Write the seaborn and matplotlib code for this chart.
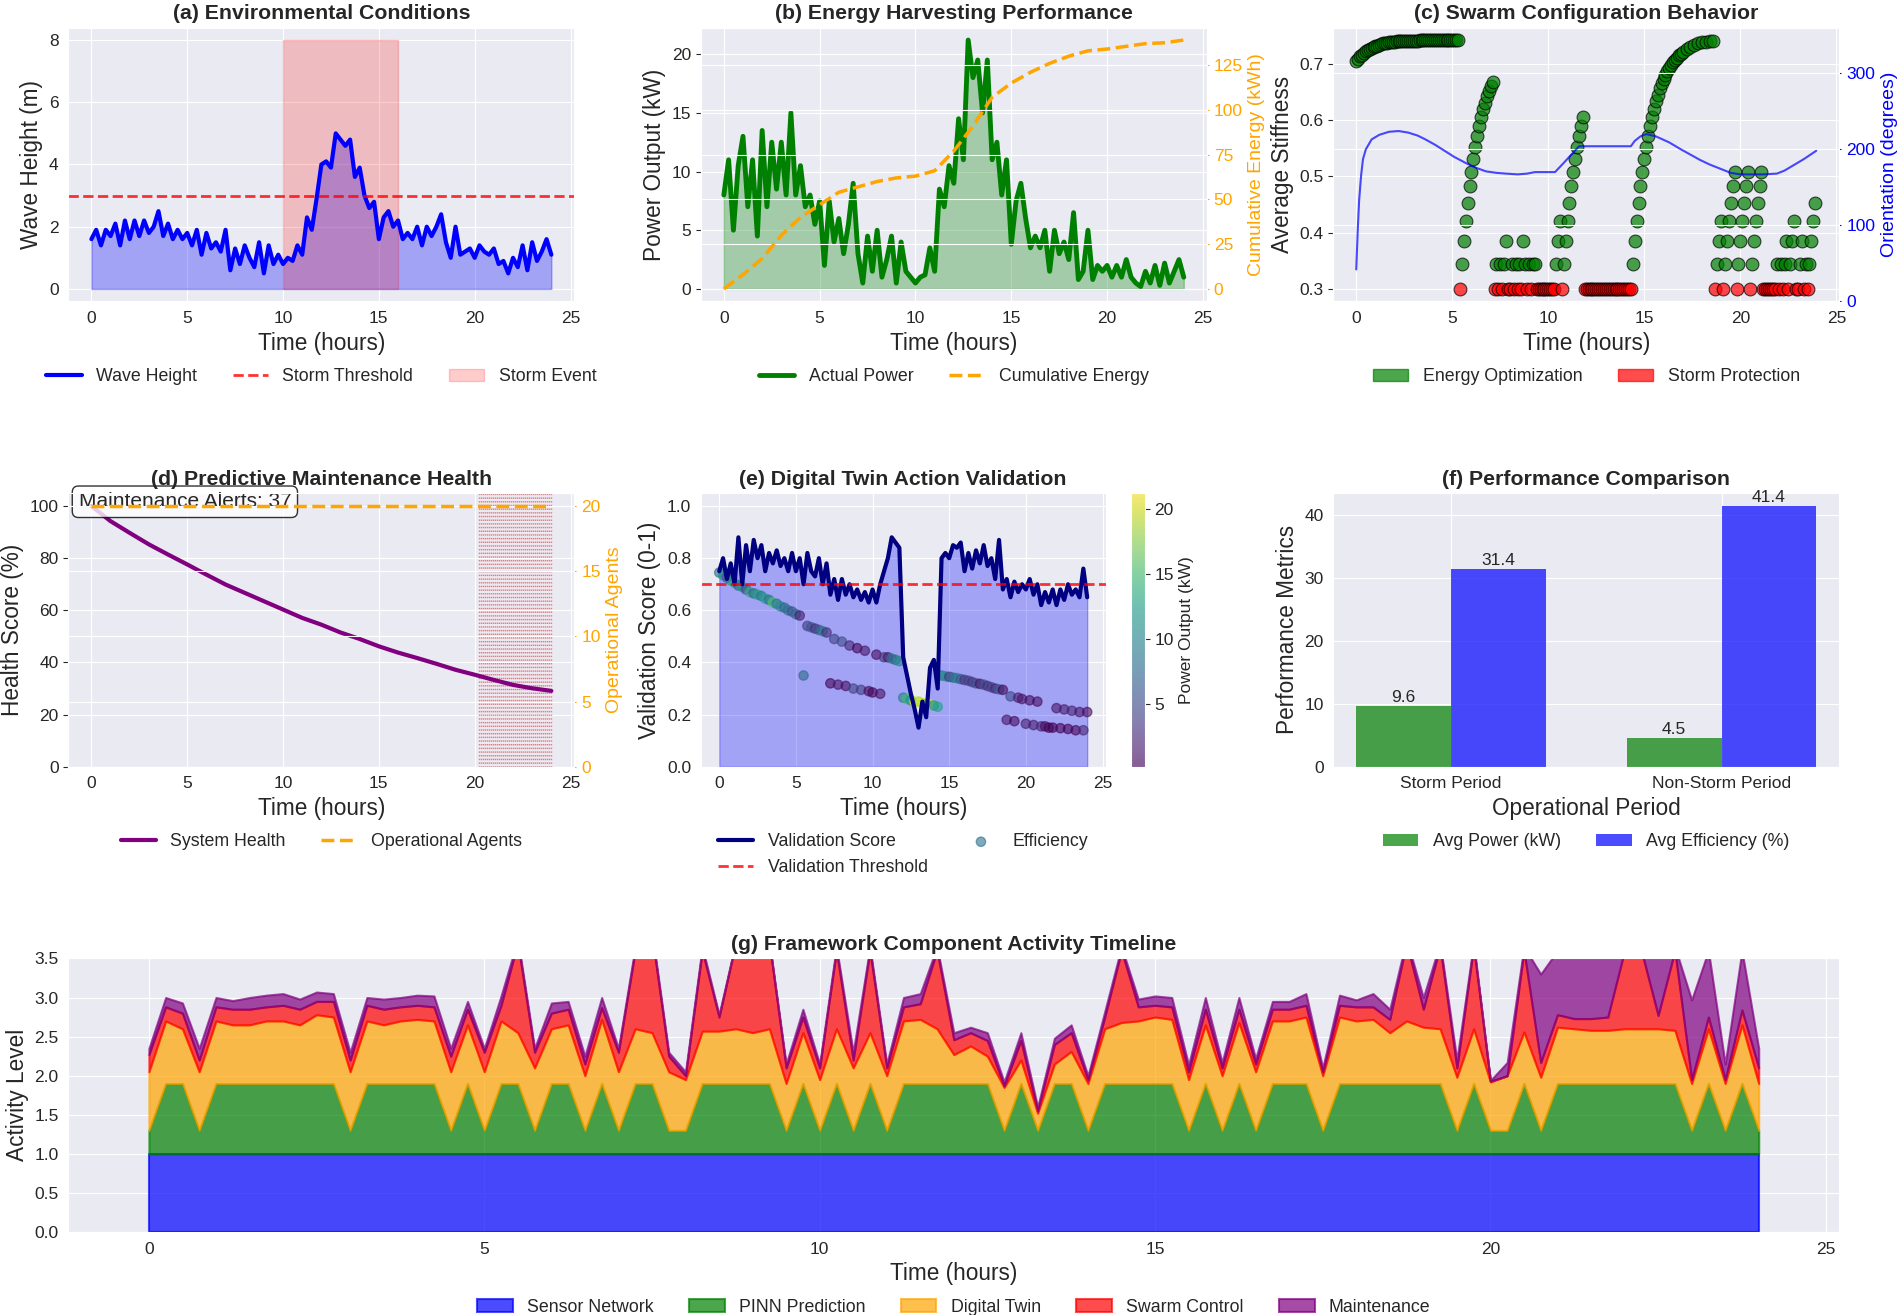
import matplotlib
matplotlib.use("Agg")
import matplotlib.pyplot as plt
from matplotlib.patches import Patch
import pandas as pd
import seaborn as sns

# ---- time grid (hours) shared by most panels ----
hours = [0.0, 0.25, 0.5, 0.75, 1.0, 1.25, 1.5, 1.75,
         2.0, 2.25, 2.5, 2.75, 3.0, 3.25, 3.5, 3.75,
         4.0, 4.25, 4.5, 4.75, 5.0, 5.25, 5.5, 5.75,
         6.0, 6.25, 6.5, 6.75, 7.0, 7.25, 7.5, 7.75,
         8.0, 8.25, 8.5, 8.75, 9.0, 9.25, 9.5, 9.75,
         10.0, 10.25, 10.5, 10.75, 11.0, 11.25, 11.5, 11.75,
         12.0, 12.25, 12.5, 12.75, 13.0, 13.25, 13.5, 13.75,
         14.0, 14.25, 14.5, 14.75, 15.0, 15.25, 15.5, 15.75,
         16.0, 16.25, 16.5, 16.75, 17.0, 17.25, 17.5, 17.75,
         18.0, 18.25, 18.5, 18.75, 19.0, 19.25, 19.5, 19.75,
         20.0, 20.25, 20.5, 20.75, 21.0, 21.25, 21.5, 21.75,
         22.0, 22.25, 22.5, 22.75, 23.0, 23.25, 23.5, 23.75,
         24.0]

# (a) environment
wave_height = [1.6, 1.9, 1.4, 1.9, 1.7, 2.1, 1.4, 2.2,
               1.6, 2.2, 1.7, 2.2, 1.8, 2.0, 2.5, 1.7,
               2.1, 1.6, 1.9, 1.6, 1.8, 1.4, 1.9, 1.1,
               1.8, 1.3, 1.5, 1.2, 1.9, 0.6, 1.3, 0.8,
               1.4, 1.0, 0.7, 1.5, 0.5, 1.4, 0.8, 1.1,
               0.8, 1.0, 0.9, 1.4, 1.1, 2.3, 1.9, 2.9,
               4.0, 4.1, 3.9, 5.0, 4.8, 4.6, 4.8, 3.6,
               3.9, 3.0, 2.6, 2.8, 1.6, 2.3, 2.5, 2.0,
               2.2, 1.6, 1.8, 1.6, 2.0, 1.4, 2.0, 1.7,
               2.0, 2.4, 1.5, 1.0, 2.0, 1.1, 1.2, 1.3,
               1.0, 1.4, 1.2, 1.1, 1.3, 0.8, 0.9, 0.5,
               1.0, 0.7, 1.4, 0.6, 1.5, 0.9, 1.2, 1.6,
               1.1]
storm_threshold = 3.0
storm_window = [10, 16]
storm_top = 8

# (b) energy
power_kw = [8.0, 11.0, 5.0, 10.5, 13.0, 7.0, 11.0, 4.5,
            13.5, 7.0, 12.5, 8.5, 12.5, 8.0, 15.0, 8.0,
            10.5, 7.0, 8.0, 5.5, 7.5, 2.0, 7.5, 4.0,
            6.0, 3.0, 5.5, 9.0, 3.0, 0.5, 4.5, 1.5,
            5.0, 1.0, 2.5, 4.5, 0.5, 4.0, 1.5, 1.0,
            0.5, 1.0, 1.2, 3.5, 1.5, 8.5, 7.0, 10.5,
            9.0, 14.5, 11.0, 21.2, 18.0, 19.5, 15.0, 19.5,
            11.0, 12.5, 8.0, 11.0, 3.8, 7.5, 9.0, 6.0,
            3.5, 4.5, 3.5, 5.0, 1.5, 5.0, 3.0, 4.0,
            2.5, 6.5, 0.8, 1.5, 5.0, 0.8, 2.0, 1.5,
            2.0, 1.0, 2.0, 1.0, 2.5, 1.0, 0.5, 0.2,
            1.5, 0.5, 2.0, 0.3, 2.2, 0.5, 1.5, 2.5,
            1.0]
energy_hours = [0, 1, 2, 3, 4, 5, 6, 7, 8, 9, 10, 11, 12,
                13, 14, 15, 16, 17, 18, 19, 20, 21, 22, 23, 24]
cumulative_energy = [0, 8, 17, 30, 40, 47, 54, 57, 60, 62, 63, 66, 77,
                     91, 107, 115, 121, 126, 130, 133, 134, 135.5, 137, 137.5, 139]

# (c) swarm configuration
energy_opt_t = [0.0, 0.1, 0.2, 0.3, 0.4, 0.5, 0.6, 0.7, 0.8, 0.9,
                1.0, 1.1, 1.2, 1.3, 1.4, 1.5, 1.6, 1.7, 1.8, 1.9,
                2.0, 2.1, 2.2, 2.3, 2.4, 2.5, 2.6, 2.7, 2.8, 2.9,
                3.0, 3.1, 3.2, 3.3, 3.4, 3.5, 3.6, 3.7, 3.8, 3.9,
                4.0, 4.1, 4.2, 4.3, 4.4, 4.5, 4.6, 4.7, 4.8, 4.9,
                5.0, 5.1, 5.2, 5.3,
                5.5, 5.6, 5.7, 5.8, 5.9, 6.0, 6.1, 6.2, 6.3, 6.4,
                6.5, 6.6, 6.7, 6.8, 6.9, 7.0, 7.1,
                7.3, 7.5, 7.7, 7.8, 8.1, 8.3, 8.5, 8.7, 8.8, 9.0, 9.2, 9.3,
                10.4, 10.5, 10.6, 10.8, 10.9, 11.0, 11.1, 11.2, 11.3, 11.4,
                11.5, 11.6, 11.7, 11.8,
                14.4, 14.5, 14.6, 14.7, 14.8, 14.9, 15.0, 15.1, 15.2, 15.3,
                15.4, 15.5, 15.6, 15.7, 15.8, 15.9, 16.0, 16.1, 16.2, 16.3,
                16.4, 16.5, 16.6, 16.7, 16.8, 16.9, 17.0,
                17.2, 17.4, 17.6, 17.8, 18.0, 18.2, 18.4, 18.6,
                18.8, 18.9, 19.0, 19.2, 19.3, 19.4, 19.5, 19.6, 19.7,
                19.9, 20.0, 20.1, 20.2, 20.3, 20.4,
                20.6, 20.7, 20.8, 20.9, 21.0, 21.1,
                21.9, 22.1, 22.3, 22.4, 22.6, 22.7, 22.8,
                23.1, 23.2, 23.4, 23.6, 23.7, 23.8, 23.9]
energy_opt_stiff = [0.705, 0.709, 0.713, 0.716, 0.719, 0.722, 0.724, 0.726, 0.728, 0.730,
                    0.731, 0.732, 0.734, 0.735, 0.736, 0.736, 0.737, 0.738, 0.738, 0.739,
                    0.739, 0.740, 0.740, 0.740, 0.740, 0.740, 0.741, 0.741, 0.741, 0.741,
                    0.741, 0.741, 0.741, 0.742, 0.742, 0.742, 0.742, 0.742, 0.742, 0.742,
                    0.742, 0.742, 0.742, 0.742, 0.742, 0.742, 0.742, 0.742, 0.742, 0.742,
                    0.742, 0.742, 0.742, 0.742,
                    0.345, 0.385, 0.420, 0.453, 0.482, 0.508, 0.531, 0.552, 0.571, 0.589,
                    0.605, 0.620, 0.631, 0.642, 0.651, 0.660, 0.667,
                    0.345, 0.345, 0.345, 0.385, 0.345, 0.345, 0.345, 0.385, 0.345, 0.345, 0.345, 0.345,
                    0.345, 0.385, 0.420, 0.345, 0.385, 0.420, 0.453, 0.482, 0.508, 0.531,
                    0.552, 0.571, 0.589, 0.605,
                    0.345, 0.385, 0.420, 0.453, 0.482, 0.508, 0.531, 0.552, 0.571, 0.589,
                    0.605, 0.620, 0.633, 0.645, 0.656, 0.665, 0.673, 0.680, 0.687, 0.693,
                    0.698, 0.703, 0.707, 0.711, 0.715, 0.718, 0.721,
                    0.726, 0.730, 0.733, 0.736, 0.738, 0.739, 0.740, 0.741,
                    0.345, 0.385, 0.420, 0.345, 0.385, 0.420, 0.453, 0.482, 0.508,
                    0.345, 0.385, 0.420, 0.453, 0.482, 0.508,
                    0.345, 0.385, 0.420, 0.453, 0.482, 0.508,
                    0.345, 0.345, 0.345, 0.385, 0.345, 0.385, 0.420,
                    0.345, 0.385, 0.345, 0.345, 0.385, 0.420, 0.453]
storm_prot_t = [5.4, 7.2, 7.4, 7.6, 7.9, 8.0, 8.2, 8.4, 8.6, 8.9, 9.1,
                9.4, 9.5, 9.6, 9.7, 9.8, 9.9, 10.0, 10.1, 10.2, 10.3, 10.7,
                11.9, 12.0, 12.1, 12.2, 12.3, 12.4, 12.5, 12.6, 12.7, 12.8,
                12.9, 13.0, 13.1, 13.2, 13.3, 13.4, 13.5, 13.6, 13.7, 13.8,
                13.9, 14.0, 14.1, 14.2, 14.3,
                18.7, 19.1, 19.8, 20.5,
                21.2, 21.3, 21.4, 21.5, 21.6, 21.7, 21.8,
                22.0, 22.2, 22.5, 22.9, 23.0, 23.3, 23.5]
storm_prot_stiff = 0.3
orient_hours = [0, 0.08, 0.15, 0.25, 0.35, 0.5, 0.8, 1.2, 1.7, 2.2, 2.7, 3.2,
                3.6, 4.1, 4.6, 5.1, 5.7, 6.2, 6.75, 7.3, 7.8, 8.4, 8.9, 9.3,
                10.35, 10.8, 11.2, 11.6, 14.3, 14.5, 14.8, 15.1, 15.6, 16.3,
                16.9, 17.4, 17.9, 18.4, 19.0, 19.5, 20.0, 20.55, 21.2, 21.9,
                22.3, 22.7, 23.3, 23.95]
orient_deg = [42, 95, 133, 165, 187, 200, 213, 219, 223, 224, 222, 218,
              213, 206, 198, 190, 182, 176, 171, 169, 168, 167, 168, 170,
              170, 182, 193, 204, 204, 211, 217, 220, 217, 209,
              200, 193, 186, 180, 174, 169, 167, 167, 167, 168,
              172, 178, 187, 198]

# (d) maintenance
health_hours = [0, 1, 2, 3, 4, 5, 6, 7, 8, 9, 10, 11, 12,
                13, 14, 15, 16, 17, 18, 19, 20, 21, 22, 23, 24]
system_health = [100, 94.2, 89.7, 85.3, 81.4, 77.6, 73.7, 69.9, 66.7, 63.5, 60.3, 57.1, 54.5,
                 51.5, 49.0, 46.2, 43.8, 41.7, 39.5, 37.2, 35.3, 33.3, 31.4, 30.1, 29.1]
operational_agents = [20] * len(health_hours)
alert_hours = [20.20, 20.31, 20.41, 20.52, 20.62, 20.73, 20.83, 20.94, 21.04, 21.15,
               21.25, 21.36, 21.46, 21.57, 21.67, 21.78, 21.88, 21.99, 22.09, 22.20,
               22.30, 22.41, 22.51, 22.62, 22.72, 22.83, 22.93, 23.04, 23.14, 23.25,
               23.35, 23.46, 23.56, 23.67, 23.77, 23.88, 23.98]

# (e) digital twin validation
validation = [0.75, 0.80, 0.72, 0.78, 0.70, 0.88, 0.70, 0.85,
              0.75, 0.87, 0.80, 0.85, 0.75, 0.82, 0.78, 0.83,
              0.77, 0.80, 0.75, 0.82, 0.75, 0.80, 0.70, 0.82,
              0.75, 0.73, 0.80, 0.70, 0.78, 0.66, 0.72, 0.64,
              0.72, 0.66, 0.70, 0.65, 0.68, 0.64, 0.67, 0.63,
              0.68, 0.63, 0.70, 0.75, 0.80, 0.88, 0.86, 0.84,
              0.42, 0.35, 0.28, 0.22, 0.15, 0.25, 0.19, 0.38,
              0.41, 0.30, 0.80, 0.82, 0.80, 0.85, 0.84, 0.86,
              0.75, 0.82, 0.76, 0.83, 0.78, 0.85, 0.77, 0.80,
              0.72, 0.87, 0.68, 0.72, 0.65, 0.71, 0.67, 0.70,
              0.68, 0.72, 0.66, 0.70, 0.62, 0.67, 0.63, 0.68,
              0.62, 0.68, 0.64, 0.70, 0.66, 0.68, 0.65, 0.76,
              0.65]
validation_threshold = 0.7
efficiency = [0.745, 0.735, 0.725, 0.715, 0.705, 0.695, 0.69, 0.68,
              0.67, 0.665, 0.66, 0.655, 0.645, 0.64, 0.63, 0.625,
              0.615, 0.61, 0.60, 0.595, 0.585, 0.58, 0.35, 0.54,
              0.535, 0.53, 0.525, 0.52, 0.515, 0.32, 0.49, 0.315,
              0.48, 0.31, 0.465, 0.30, 0.455, 0.295, 0.445, 0.29,
              0.285, 0.43, 0.28, 0.42, 0.42, 0.415, 0.41, 0.405,
              0.265, 0.26, 0.255, 0.25, 0.25, 0.245, 0.24, 0.24,
              0.235, 0.23, 0.35, 0.347, 0.345, 0.342, 0.34, 0.336,
              0.333, 0.33, 0.325, 0.32, 0.318, 0.315, 0.31, 0.305,
              0.30, 0.297, 0.295, 0.18, 0.27, 0.175, 0.265, 0.26,
              0.165, 0.255, 0.16, 0.25, 0.155, 0.155, 0.15, 0.15,
              0.225, 0.148, 0.22, 0.145, 0.215, 0.14, 0.21, 0.14,
              0.21]

# (f) performance comparison
periods = ["Storm Period", "Non-Storm Period"]
avg_power = [9.6, 4.5]
avg_efficiency = [31.4, 41.4]

# (g) component activity
sensor_network = [1.0] * len(hours)
pinn_prediction = [.3, .9, .9, .3, .9, .9, .9, .9,
                   .9, .9, .9, .9, .3, .9, .9, .9,
                   .9, .9, .3, .9, .3, .9, .9, .3,
                   .9, .9, .3, .9, .3, .9, .9, .3,
                   .3, .9, .9, .9, .9, .9, .3, .9,
                   .3, .9, .3, .9, .3, .9, .9, .9,
                   .9, .9, .9, .3, .9, .3, .9, .9,
                   .3, .9, .9, .9, .9, .9, .3, .9,
                   .3, .9, .3, .9, .9, .9, .3, .9,
                   .9, .9, .9, .9, .9, .9, .3, .9,
                   .3, .3, .9, .3, .9, .9, .9, .9,
                   .9, .9, .9, .9, .3, .9, .3, .9,
                   .3]
digital_twin = [.75, .8, .7, .75, .8, .75, .75, .8,
                .8, .75, .88, .85, .75, .8, .75, .8,
                .82, .8, .75, .75, .75, .8, .65, .8,
                .7, .75, .7, .82, .75, .7, .65, .75,
                .65, .67, .67, .7, .65, .7, .6, .65,
                .65, .7, .8, .65, .7, .8, .82, .7,
                .37, .48, .35, .55, .3, .22, .25, .41,
                .6, .7, .78, .8, .85, .82, .65, .75,
                .7, .78, .75, .8, .8, .85, .7, .85,
                .8, .82, .65, .8, .72, .7, .68, .7,
                .62, .7, .66, .68, .72, .7, .68, .68,
                .7, .7, .7, .68, .6, .7, .6, .75,
                .6]
swarm_control = [.22, .18, .2, .15, .18, .2, .2, .18,
                 .2, .2, .17, .2, .15, .2, .2, .18,
                 .18, .18, .2, .2, .25, .2, 1.15, .2,
                 .2, .2, .15, .15, .25, 1.0, 1.25, .2,
                 .05, 1.03, .18, 1.1, 1.25, 1.1, .2, .2,
                 .15, 1.0, .1, 1.05, .1, .18, .2, 1.0,
                 .19, .17, .2, .02, .25, .03, .25, .24,
                 .05, .15, .92, .18, .15, .16, .1, .2,
                 .1, .17, .1, .15, .15, .15, .05, .15,
                 .18, .16, .17, 1.0, .23, 1.05, .12, 1.05,
                 .01, .0, 1.04, .19, .16, .13, .15, .17,
                 1.0, 1.0, .17, 1.02, .05, .15, .05, .19,
                 .2]
maintenance = [.08, .12, .13, .15, .12, .11, .15, .15,
               .15, .13, .12, .1, .1, .1, .13, .12,
               .13, .14, .1, .1, .05, .12, .05, .05,
               .13, .1, .1, .13, .05, .05, .05, .05,
               .05, .05, .03, .02, .02, .02, .05, .1,
               .05, .05, .1, .05, .05, .12, .13, .05,
               .09, .07, .1, .05, .1, .05, .08, .1,
               .05, .07, .05, .1, .12, .12, .09, .15,
               .07, .15, .07, .1, .1, .15, .05, .13,
               .09, .17, .13, .05, .15, .05, .1, .05,
               .01, .17, .05, 1.13, .82, .87, .87, .85,
               .05, .05, .83, .05, 1.02, .85, .2, .76,
               .25]
component_names = ["Sensor Network", "PINN Prediction", "Digital Twin",
                   "Swarm Control", "Maintenance"]
component_colors = ['blue', 'green', 'orange', 'red', 'purple']

# ---------------- style ----------------
sns.set_style("darkgrid")
plt.rcParams['font.family'] = ['Liberation Sans', 'DejaVu Sans']
plt.rcParams.update({
    'axes.titlesize': 15.3, 'axes.titleweight': 'bold',
    'axes.labelsize': 16.3, 'xtick.labelsize': 12.5, 'ytick.labelsize': 12.5,
    'legend.fontsize': 12.8, 'patch.force_edgecolor': False,
})

fig = plt.figure(figsize=(19, 13.15), dpi=100)
gs = fig.add_gridspec(3, 3, left=0.036, right=0.968, bottom=0.063, top=0.979,
                      wspace=0.25, hspace=0.70)
leg_kw = dict(loc='upper center', bbox_to_anchor=(0.5, -0.185), frameon=False)


def right_axis(ax, label, color):
    ax2 = ax.twinx()
    ax2.set_ylabel(label, color=color, fontsize=14)
    ax2.tick_params(axis='y', colors=color, length=1.5)
    return ax2


# (a)
ax = fig.add_subplot(gs[0, 0])
ax.fill_between(hours, wave_height, color='blue', alpha=0.3)
l1, = ax.plot(hours, wave_height, color='blue', lw=3, label='Wave Height')
p1 = ax.fill_between(storm_window, 0, storm_top, color='red', alpha=0.2, label='Storm Event')
l2 = ax.axhline(storm_threshold, color='red', ls='--', lw=2, alpha=0.8, label='Storm Threshold')
ax.set_title('(a) Environmental Conditions')
ax.set_xlabel('Time (hours)')
ax.set_ylabel('Wave Height (m)')
ax.legend(handles=[l1, l2, p1], ncol=3, **leg_kw)

# (b)
ax = fig.add_subplot(gs[0, 1])
ax.fill_between(hours, power_kw, color='green', alpha=0.3)
l1, = ax.plot(hours, power_kw, color='green', lw=3.5, label='Actual Power')
ax2 = right_axis(ax, 'Cumulative Energy (kWh)', 'orange')
l2, = ax2.plot(energy_hours, cumulative_energy, color='orange', ls='--', lw=2.5,
               label='Cumulative Energy')
ax.set_title('(b) Energy Harvesting Performance')
ax.set_xlabel('Time (hours)')
ax.set_ylabel('Power Output (kW)')
ax.legend(handles=[l1, l2], ncol=2, **leg_kw)

# (c)
ax = fig.add_subplot(gs[0, 2])
sns.scatterplot(x=energy_opt_t, y=energy_opt_stiff, color='green', alpha=0.7,
                edgecolor='black', linewidth=0.8, s=85, ax=ax, legend=False)
sns.scatterplot(x=storm_prot_t, y=[storm_prot_stiff] * len(storm_prot_t), color='red',
                alpha=0.7, edgecolor='black', linewidth=0.8, s=85, ax=ax, legend=False)
ax2 = right_axis(ax, 'Orientation (degrees)', 'blue')
ax2.plot(orient_hours, orient_deg, color='blue', lw=1.5, alpha=0.7)
ax2.set_ylim(0, 360)
ax.set_title('(c) Swarm Configuration Behavior')
ax.set_xlabel('Time (hours)')
ax.set_ylabel('Average Stiffness')
ax.legend(handles=[Patch(facecolor='green', edgecolor='green', alpha=0.7, label='Energy Optimization'),
                   Patch(facecolor='red', edgecolor='red', alpha=0.7, label='Storm Protection')],
          ncol=2, **leg_kw)

# (d)
ax = fig.add_subplot(gs[1, 0])
for t in alert_hours:
    ax.axvline(t, color='red', ls=':', lw=1, alpha=0.5)
l1, = ax.plot(health_hours, system_health, color='purple', lw=3, label='System Health')
ax.set_ylim(0, 105)
ax2 = right_axis(ax, 'Operational Agents', 'orange')
l2, = ax2.plot(health_hours, operational_agents, color='orange', ls='--', lw=2.5,
               label='Operational Agents')
ax2.set_ylim(0, 21)
ax.text(0.02, 0.968, f'Maintenance Alerts: {len(alert_hours)}', transform=ax.transAxes,
        fontsize=15, va='center', ha='left',
        bbox=dict(boxstyle='round', facecolor='white', edgecolor='black', alpha=0.8))
ax.set_title('(d) Predictive Maintenance Health')
ax.set_xlabel('Time (hours)')
ax.set_ylabel('Health Score (%)')
ax.legend(handles=[l1, l2], ncol=2, **leg_kw)

# (e)
ax = fig.add_subplot(gs[1, 1])
ax.fill_between(hours, validation, color='blue', alpha=0.3)
sc = ax.scatter(hours, efficiency, c=power_kw, cmap='viridis', s=45, alpha=0.6,
                label='Efficiency')
l1, = ax.plot(hours, validation, color='navy', lw=3, label='Validation Score')
l2 = ax.axhline(validation_threshold, color='red', ls='--', lw=2, alpha=0.8,
                label='Validation Threshold')
ax.set_ylim(0, 1.05)
cb = fig.colorbar(sc, ax=ax)
cb.set_label('Power Output (kW)', fontsize=12.5)
cb.ax.tick_params(labelsize=12.5)
cb.ax.grid(False)
ax.set_title('(e) Digital Twin Action Validation')
ax.set_xlabel('Time (hours)')
ax.set_ylabel('Validation Score (0-1)')
ax.legend(handles=[l1, l2, sc], ncol=2, **leg_kw)

# (f)
ax = fig.add_subplot(gs[1, 2])
perf = pd.DataFrame({
    'Period': periods + periods,
    'Metric': ['Avg Power (kW)'] * 2 + ['Avg Efficiency (%)'] * 2,
    'Value': avg_power + avg_efficiency,
})
sns.barplot(data=perf, x='Period', y='Value', hue='Metric', palette=['green', 'blue'],
            saturation=1, alpha=0.7, width=0.7, errorbar=None, ax=ax)
for cont in ax.containers:
    ax.bar_label(cont, fmt='%.1f', fontsize=12.5, padding=1)
ax.set_xlim(-0.435, 1.435)
ax.xaxis.grid(True)
ax.set_title('(f) Performance Comparison')
ax.set_xlabel('Operational Period')
ax.set_ylabel('Performance Metrics')
sns.move_legend(ax, title=None, ncol=2, **leg_kw)

# (g)
ax = fig.add_subplot(gs[2, :])
polys = ax.stackplot(hours, sensor_network, pinn_prediction, digital_twin, swarm_control,
                     maintenance, labels=component_names, colors=component_colors,
                     alpha=0.7, linewidth=1.5)
for poly, col in zip(polys, component_colors):
    poly.set_edgecolor(col)
ax.set_ylim(0, 3.5)
ax.set_title('(g) Framework Component Activity Timeline')
ax.set_xlabel('Time (hours)')
ax.set_ylabel('Activity Level')
ax.legend(ncol=5, **leg_kw)

fig.savefig('out.png', dpi=100)
